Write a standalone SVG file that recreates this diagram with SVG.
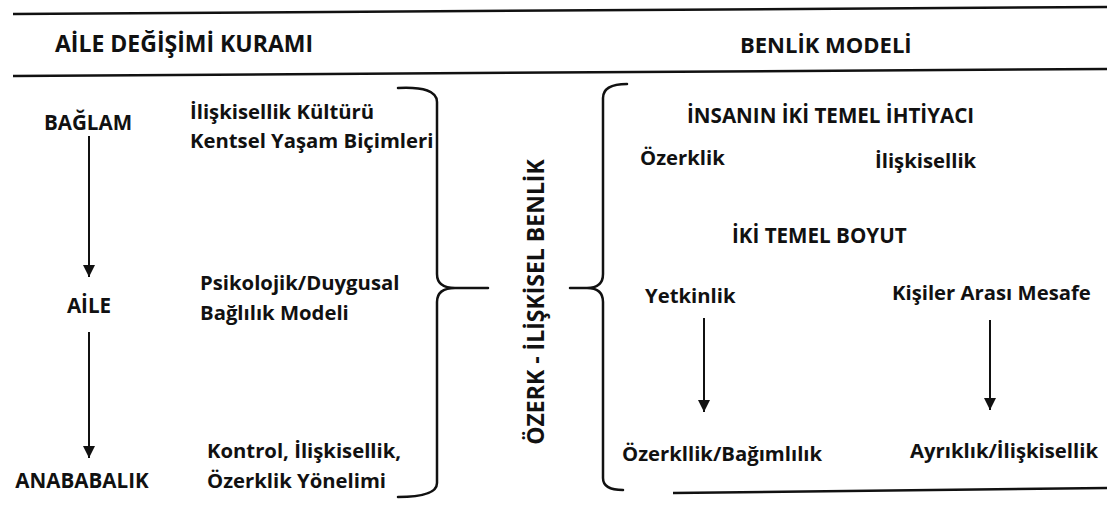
<svg xmlns="http://www.w3.org/2000/svg" width="1107" height="505" viewBox="0 0 1107 505">
<defs>
<style>
text{font-family:"Open Sans","Noto Sans","DejaVu Sans",sans-serif;font-weight:700;fill:#111}
.title{font-size:23px}
.t{font-size:20.3px}
.c{font-size:20.6px}
.rule{stroke:#111;stroke-width:2.5;fill:none}
.brace{stroke:#111;stroke-width:2.5;fill:none;stroke-linecap:round;stroke-linejoin:round}
.arr{stroke:#111;stroke-width:2;fill:none;marker-end:url(#ah)}
</style>
<marker id="ah" markerUnits="userSpaceOnUse" markerWidth="12" markerHeight="12" refX="12" refY="6" orient="auto" viewBox="0 0 12 12">
<path d="M0,0 L12,6 L0,12 Z" fill="#111"/>
</marker>
</defs>
<rect width="1107" height="505" fill="#fff"/>
<g id="rules">
<line class="rule" x1="13" y1="14" x2="1107" y2="7"/>
<line class="rule" x1="13" y1="76" x2="1107" y2="69"/>
<line class="rule" x1="673" y1="493" x2="1107" y2="488"/>
</g>
<g id="titles">
<text class="title" x="55" y="52">AİLE DEĞİŞİMİ KURAMI</text>
<text class="title" x="740" y="53" style="font-size:22px">BENLİK MODELİ</text>
</g>
<g id="left-column">
<g id="n-baglam"><text class="c" x="88" y="130" text-anchor="middle">BAĞLAM</text></g>
<g id="n-aile"><text class="c" x="89" y="313" text-anchor="middle">AİLE</text></g>
<g id="n-anababalik"><text class="c" x="82" y="488" text-anchor="middle">ANABABALIK</text></g>
</g>
<g id="middle-column">
<g id="n-kultur"><text class="t" x="190" y="119">İlişkisellik Kültürü</text><text class="t" x="190" y="148">Kentsel Yaşam Biçimleri</text></g>
<g id="n-baglilik"><text class="t" x="200" y="290">Psikolojik/Duygusal</text><text class="t" x="200" y="320">Bağlılık Modeli</text></g>
<g id="n-kontrol"><text class="t" x="207" y="458">Kontrol, İlişkisellik,</text><text class="t" x="207" y="488">Özerklik Yönelimi</text></g>
</g>
<g id="n-ozerk-iliskisel">
<text class="title" transform="translate(544 302) rotate(-90)" text-anchor="middle">ÖZERK - İLİŞKİSEL BENLİK</text>
</g>
<g id="right-column">
<g id="n-ihtiyac"><text class="c" x="687" y="123">İNSANIN İKİ TEMEL İHTİYACI</text></g>
<g id="n-ozerklik"><text class="t" x="640" y="165">Özerklik</text></g>
<g id="n-iliskisellik"><text class="t" x="875" y="168">İlişkisellik</text></g>
<g id="n-boyut"><text class="c" x="732" y="243">İKİ TEMEL BOYUT</text></g>
<g id="n-yetkinlik"><text class="t" x="645" y="303">Yetkinlik</text></g>
<g id="n-mesafe"><text class="t" x="892" y="300">Kişiler Arası Mesafe</text></g>
<g id="n-bagimlilik"><text class="t" x="622" y="461">Özerkllik/Bağımlılık</text></g>
<g id="n-ayriklik"><text class="t" x="910" y="458">Ayrıklık/İlişkisellik</text></g>
</g>
<g id="connectors">
<line class="arr" x1="89" y1="136" x2="89" y2="277"/>
<line class="arr" x1="89" y1="332" x2="89" y2="458"/>
<line class="arr" x1="704" y1="318" x2="704" y2="412"/>
<line class="arr" x1="990" y1="320" x2="990" y2="410"/>
<path class="brace" d="M398,88 Q437,86 437,102 L437,274 Q437,288 455,288 Q437,288 437,302 L437,483 Q437,497 398,497 M455,288 L488,288"/>
<path class="brace" d="M627,84 Q603,84 603,98 L603,274 Q603,288 587,288 Q603,288 603,302 L603,478 Q603,490 623,490 M587,288 L570,288"/>
</g>
</svg>
